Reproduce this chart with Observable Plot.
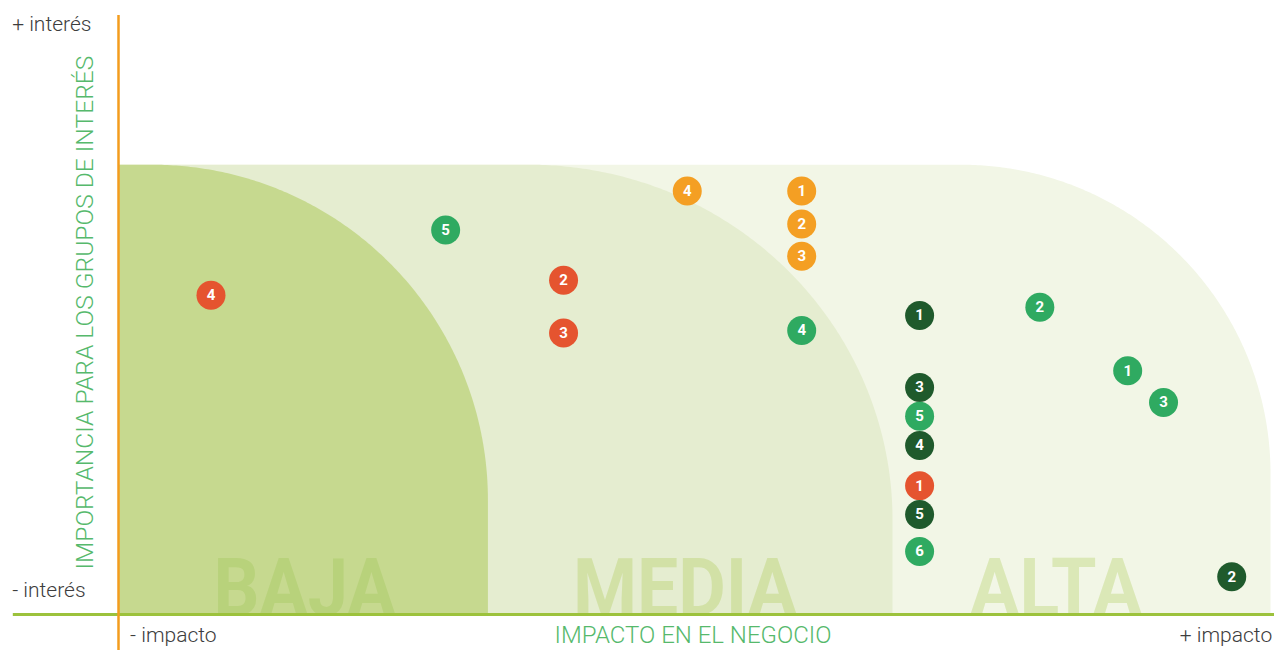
<!DOCTYPE html>
<html><head><meta charset="utf-8">
<script src="https://cdn.jsdelivr.net/npm/d3@7"></script>
<script src="https://cdn.jsdelivr.net/npm/@observablehq/plot@0.6"></script>
<style>body{margin:0;background:#fff;} svg{display:block;}</style>
</head><body><div id="chart"></div>
<script>
// ---- Data (impact 0–100 on x, stakeholder importance 0–100 on y) ----
const issueGroup  = ["rojo","verde","rojo","rojo","naranja","naranja","naranja","naranja","verde","oscuro","oscuro","verde","oscuro","rojo","oscuro","verde","verde","verde","verde","oscuro"];
const issueNumber = ["4","5","2","3","4","1","2","3","4","1","3","5","4","1","5","6","2","1","3","2"];
const impact      = [8.0,28.3,38.5,38.5,49.2,59.1,59.1,59.1,59.1,69.3,69.3,69.3,69.3,69.3,69.3,69.3,79.7,87.3,90.4,96.3];
const importance  = [53.3,64.2,55.8,47.0,70.7,70.7,65.2,59.8,47.4,49.9,37.9,33.1,28.2,21.5,16.7,10.5,51.3,40.7,35.4,6.3];

const groupNames  = ["naranja","rojo","verde","oscuro"];
const groupColors = ["#F49F23","#E5542F","#2FAA61","#1F5A2C"];

// Zones (drawn back to front)
const zoneNames      = ["ALTA","MEDIA","BAJA"];
const zoneRight      = [99.7, 67, 32];
const zoneCurveStart = [73, 35.6, 3];
const zoneCurveEnd   = [23.4, 15.7, 19];
const zoneTop        = 75;
const zoneLabelX     = [81.1, 49.0, 16.1];
const zoneFill       = ["#F2F6E6","#E5EDD0","#C6D98F"];
const zoneLabelFill  = ["#DBE8B7","#D2E1A6","#B8D27B"];
const zoneLabelWidth = [172, 224, 182];

// Text labels
const yHigh = "+ interés", yLow = "- interés";
const xLow = "- impacto", xHigh = "+ impacto";
const xTitle = "IMPACTO EN EL NEGOCIO";
const yTitle = "IMPORTANCIA PARA LOS GRUPOS DE INTERÉS";

// ---- Build tables ----
const colorOf = g => groupColors[groupNames.indexOf(g)];
const issues = impact.map((x, i) => ({x, y: importance[i], group: issueGroup[i], n: issueNumber[i]}));

function zoneOutline(i) {
  const pts = [{x: 0, y: zoneTop}];
  const rx = zoneRight[i] - zoneCurveStart[i], ry = zoneTop - zoneCurveEnd[i];
  for (let k = 0; k <= 180; k++) {
    const t = (k / 180) * Math.PI / 2;
    pts.push({x: zoneCurveStart[i] + rx * Math.sin(t), y: zoneCurveEnd[i] + ry * Math.cos(t)});
  }
  return pts;
}
const zoneLabels = zoneNames.map((name, i) => ({name, x: zoneLabelX[i], fill: zoneLabelFill[i]}));

const chart = Plot.plot({
  width: 1274, height: 650,
  marginLeft: 118, marginRight: 0, marginTop: 15, marginBottom: 36,
  x: {domain: [0, 100], axis: null},
  y: {domain: [0, 100], axis: null},
  style: {background: "#fff", fontFamily: "Roboto, sans-serif"},
  marks: [
    ...zoneNames.map((z, i) => Plot.areaY(zoneOutline(i), {x: "x", y1: 0, y2: "y", fill: zoneFill[i]})),
    Plot.text(zoneLabels, {x: "x", y: 0, text: "name", fill: "fill", fontSize: 80, fontWeight: 700, lineAnchor: "bottom"}),
    Plot.ruleY([0], {x1: -9.1, x2: 100, stroke: "#9CC23C", strokeWidth: 3}),
    Plot.ruleX([0], {y1: -6.1, y2: 100, stroke: "#F39C1E", strokeWidth: 2.5}),
    Plot.dot(issues, {x: "x", y: "y", r: 14.5, fill: d => colorOf(d.group), stroke: null}),
    Plot.text(issues, {x: "x", y: "y", text: "n", fill: "white", fontSize: 15, fontWeight: 700}),
    Plot.text([yHigh], {x: -9.2, y: 98.6, text: d => d, textAnchor: "start", fontSize: 21, fontWeight: 300, fill: "#3d3d3d"}),
    Plot.text([yLow], {x: -9.2, y: 4.0, text: d => d, textAnchor: "start", fontSize: 21, fontWeight: 300, fill: "#3d3d3d"}),
    Plot.text([xLow], {x: 1.0, y: -3.5, text: d => d, textAnchor: "start", fontSize: 21, fontWeight: 300, fill: "#3d3d3d"}),
    Plot.text([xHigh], {x: 99.8, y: -3.5, text: d => d, textAnchor: "end", fontSize: 21, fontWeight: 300, fill: "#3d3d3d"}),
    Plot.text([xTitle], {x: 49.7, y: -3.5, text: d => d, fontSize: 24, fontWeight: 300, fill: "#56B96C"}),
    Plot.text([yTitle], {x: -2.9, y: 50.4, text: d => d, rotate: -90, fontSize: 24.6, fontWeight: 300, fill: "#56B96C"})
  ]
});
// condense the zone watermark labels to the reference widths
d3.select(chart).selectAll("text").filter(function() { return zoneNames.includes(this.textContent); })
  .each(function() {
    const i = zoneNames.indexOf(this.textContent);
    d3.select(this).attr("textLength", zoneLabelWidth[i]).attr("lengthAdjust", "spacingAndGlyphs");
  });
document.getElementById("chart").appendChild(chart);
</script>
</body></html>
